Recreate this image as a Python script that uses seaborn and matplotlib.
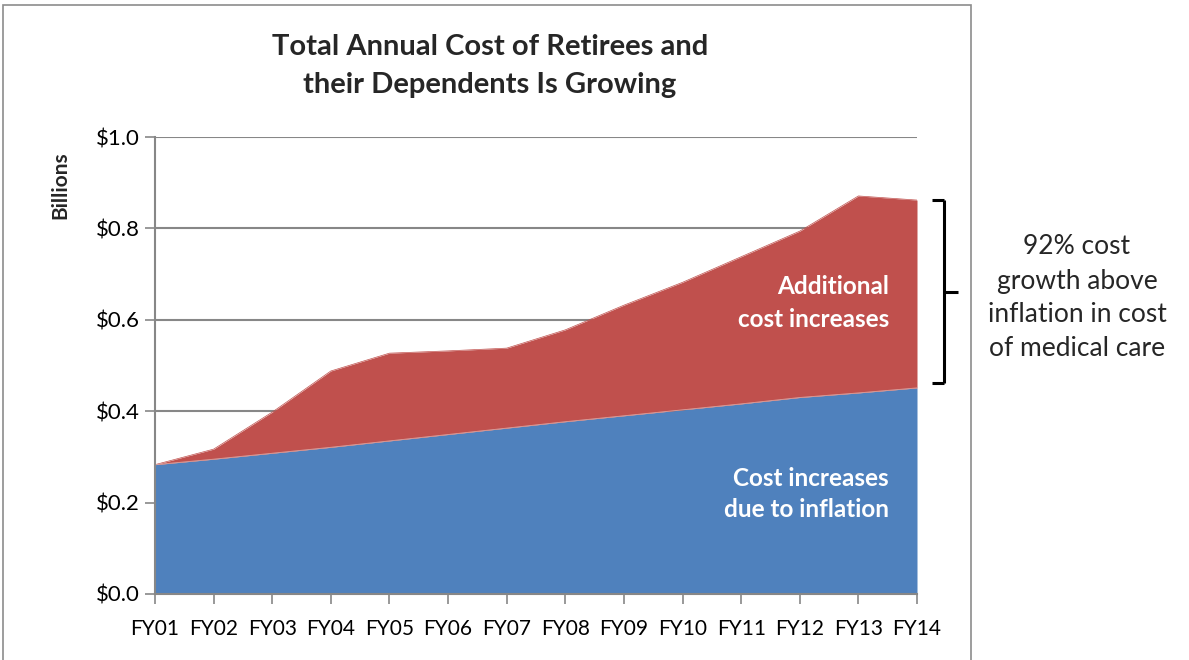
import matplotlib
matplotlib.use("Agg")
import matplotlib.pyplot as plt
import seaborn as sns
import numpy as np
import pandas as pd
from matplotlib.lines import Line2D
from matplotlib.patches import Rectangle

years = ["FY01", "FY02", "FY03", "FY04", "FY05", "FY06", "FY07",
         "FY08", "FY09", "FY10", "FY11", "FY12", "FY13", "FY14"]
inflation = [0.283, 0.295, 0.308, 0.321, 0.335, 0.349, 0.363,
             0.377, 0.390, 0.403, 0.416, 0.430, 0.440, 0.451]
total = [0.283, 0.317, 0.398, 0.488, 0.527, 0.532, 0.538,
         0.578, 0.632, 0.682, 0.738, 0.794, 0.871, 0.862]
yticks = [0.0, 0.2, 0.4, 0.6, 0.8, 1.0]
ytick_labels = ["$0.0", "$0.2", "$0.4", "$0.6", "$0.8", "$1.0"]

sns.set_theme(style="white")
plt.rcParams['font.family'] = ['Lato', 'DejaVu Sans']

BLUE = "#4F81BD"
RED = "#C0504D"
GRID = "#878787"

df = pd.DataFrame({"x": np.arange(len(years)), "inflation": inflation, "total": total})

fig = plt.figure(figsize=(11.89, 6.60), dpi=100)
ax = fig.add_axes([155/1189, 1 - 594/660, (917-155)/1189, (594-137)/660])

ax.fill_between(df["x"], 0, df["inflation"], color=BLUE, lw=0, zorder=2)
ax.fill_between(df["x"], df["inflation"], df["total"], color=RED, lw=0, zorder=2)
sns.lineplot(data=df, x="x", y="total", ax=ax, color=RED, lw=0.5, zorder=3)
sns.lineplot(data=df, x="x", y="inflation", ax=ax, color="#d9a3a1", lw=0.6, zorder=3)

ax.set_xlim(0, len(years) - 1)
ax.set_ylim(0, 1.0)
ax.set_yticks(yticks)
ax.set_yticklabels(ytick_labels, fontsize=16)
ax.set_xticks(np.arange(len(years)))
ax.set_xticklabels(years, fontsize=15)
ax.set_xlabel("")
ax.set_ylabel("")
for v in yticks[1:]:
    ax.axhline(v, color=GRID, lw=1.5, zorder=1)
for s in ["top", "right"]:
    ax.spines[s].set_visible(False)
for s in ["left", "bottom"]:
    ax.spines[s].set_color(GRID)
    ax.spines[s].set_linewidth(1.5)
    ax.spines[s].set_zorder(4)
ax.tick_params(axis="both", which="both", direction="out", length=7, width=1.2,
               color=GRID, left=True, bottom=True, labelcolor="black")
ax.tick_params(axis="x", pad=11)
ax.tick_params(axis="y", pad=4)

# chart frame
fig.patches.append(Rectangle((3/1189, -0.05), (971-3)/1189, 1 - 5/660 + 0.05,
                             transform=fig.transFigure, fill=False,
                             edgecolor="#8c8c8c", lw=1.2))

fig.text(490/1189, 1 - 66/660, "Total Annual Cost of Retirees and\ntheir Dependents Is Growing",
         ha="center", va="center", fontsize=21, fontweight="bold", linespacing=1.55)
fig.text(60/1189, 1 - 185/660, "Billions", rotation=90, ha="center", va="center",
         fontsize=15, fontweight="bold")

fig.text(889/1189, 1 - 303/660, "Additional\ncost increases", ha="right", va="center",
         fontsize=17.5, fontweight="bold", color="white", linespacing=1.5)
fig.text(889/1189, 1 - 494/660, "Cost increases\ndue to inflation", ha="right", va="center",
         fontsize=17.5, fontweight="bold", color="white", linespacing=1.45)

# bracket
bx = 944 / 1189
top = 1 - 200 / 660
bot = 1 - 383 / 660
mid = 1 - 292 / 660
kw = dict(transform=fig.transFigure, color="black", lw=2.2, solid_capstyle="butt")
fig.lines.append(Line2D([932/1189, bx], [top, top], **kw))
fig.lines.append(Line2D([932/1189, bx], [bot, bot], **kw))
fig.lines.append(Line2D([bx, bx], [top, bot], **kw))
fig.lines.append(Line2D([bx, 958/1189], [mid, mid], **kw))

fig.text(1077/1189, 1 - 298/660, "92% cost\ngrowth above\ninflation in cost\nof medical care",
         ha="center", va="center", fontsize=19, linespacing=1.45)

fig.savefig("out.png", dpi=100)
